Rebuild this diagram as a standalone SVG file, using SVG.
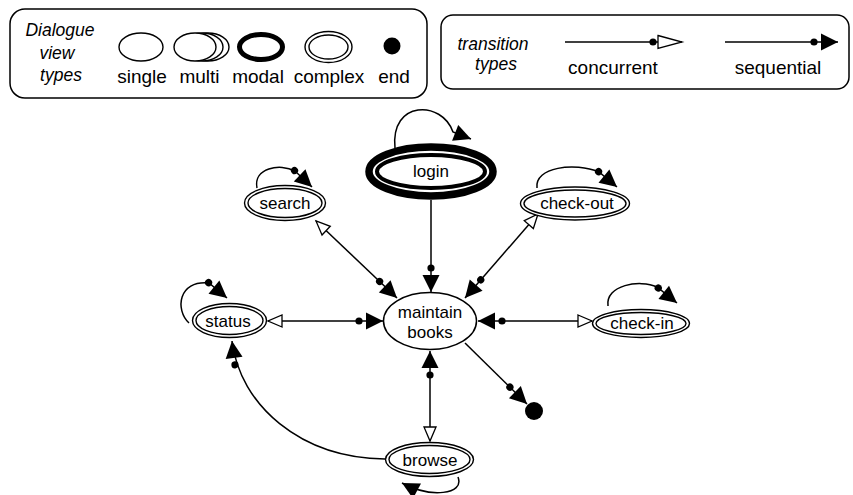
<svg xmlns="http://www.w3.org/2000/svg" width="853" height="495" viewBox="0 0 853 495">
<style>
text{font-family:"Liberation Sans",Arial,sans-serif;fill:#000;text-anchor:middle}
.it{font-style:italic;font-size:17.5px}
.lg{font-size:19px}
.lb{font-size:17px}
.box{fill:#fff;stroke:#000;stroke-width:1.5}
.el{fill:#fff;stroke:#000;stroke-width:1.4}
.ln{fill:none;stroke:#000;stroke-width:1.5}
</style>
<defs>
<marker id="seq" markerUnits="userSpaceOnUse" viewBox="-28 -9 29 18" refX="0" refY="0" markerWidth="29" markerHeight="18" orient="auto" overflow="visible">
<path d="M-17,-8.5 L0,0 L-17,8.5 Z" fill="#000"/>
<circle cx="-24" cy="0" r="3.6" fill="#000"/>
</marker>
<marker id="arr" markerUnits="userSpaceOnUse" viewBox="-18 -9 19 18" refX="0" refY="0" markerWidth="19" markerHeight="18" orient="auto" overflow="visible">
<path d="M-17,-8.5 L0,0 L-17,8.5 Z" fill="#000"/>
</marker>
<marker id="open" markerUnits="userSpaceOnUse" viewBox="-15 -7 16 14" refX="0" refY="0" markerWidth="16" markerHeight="14" orient="auto-start-reverse" overflow="visible">
<path d="M-14,-6 L0,0 L-14,6 Z" fill="#fff" stroke="#000" stroke-width="1.3"/>
</marker>
<marker id="conc" markerUnits="userSpaceOnUse" viewBox="-34 -8 35 16" refX="0" refY="0" markerWidth="35" markerHeight="16" orient="auto" overflow="visible">
<circle cx="-29" cy="0" r="3.6" fill="#000"/>
<path d="M-24,-6.5 L0,0 L-24,6.5 Z" fill="#fff" stroke="#000" stroke-width="1.3"/>
</marker>
</defs>
<rect width="853" height="495" fill="#fff"/>

<g id="legend-views">
<rect class="box" x="10" y="9" width="417" height="89" rx="15"/>
<text class="it" x="60" y="36">Dialogue</text>
<text class="it" x="57" y="59">view</text>
<text class="it" x="61" y="81">types</text>
<ellipse class="el" cx="141" cy="47" rx="22" ry="14"/>
<ellipse class="el" cx="208" cy="47" rx="21" ry="14"/>
<ellipse class="el" cx="202" cy="47" rx="21" ry="14"/>
<ellipse class="el" cx="195" cy="47" rx="21" ry="14"/>
<ellipse cx="261" cy="47" rx="21.5" ry="12.5" fill="#fff" stroke="#000" stroke-width="5"/>
<ellipse class="el" cx="328.5" cy="47" rx="23.5" ry="15.5"/>
<ellipse class="el" cx="328.5" cy="47" rx="19.5" ry="12"/>
<circle cx="392" cy="46" r="8.5" fill="#000"/>
<text class="lg" x="142" y="83">single</text>
<text class="lg" x="199.5" y="83">multi</text>
<text class="lg" x="258" y="83">modal</text>
<text class="lg" x="329" y="83">complex</text>
<text class="lg" x="394" y="83">end</text>
</g>

<g id="legend-transitions">
<rect class="box" x="441" y="15" width="408" height="74" rx="12"/>
<text class="it" x="493" y="50">transition</text>
<text class="it" x="496" y="70">types</text>
<path class="ln" d="M565,42 L682,42" marker-end="url(#conc)"/>
<path class="ln" d="M725,42 L838,42" marker-end="url(#seq)"/>
<text class="lg" x="613" y="74">concurrent</text>
<text class="lg" x="778" y="74">sequential</text>
</g>

<g id="connectors">
<path class="ln" d="M431,200 L431,292" marker-end="url(#seq)"/>
<path class="ln" d="M316,221 L397,298" marker-start="url(#open)" marker-end="url(#seq)"/>
<path class="ln" d="M538,214 L465,298" marker-start="url(#open)" marker-end="url(#seq)"/>
<path class="ln" d="M592,321 L478,321" marker-start="url(#open)" marker-end="url(#seq)"/>
<path class="ln" d="M268,321 L383,321" marker-start="url(#open)" marker-end="url(#seq)"/>
<path class="ln" d="M430,441 L430,351" marker-start="url(#open)" marker-end="url(#seq)"/>
<path class="ln" d="M465,343 L527,404" marker-end="url(#seq)"/>
<path class="ln" d="M385,459 C300,458 240,405 232,341" marker-end="url(#seq)"/>
<path class="ln" d="M395,148 C390,100 442,100 453,132 L471,139" marker-end="url(#arr)"/>
<path class="ln" d="M257,188 C253,168 280,163 295,171 L312,187" marker-end="url(#seq)"/>
<path class="ln" d="M537,188 C534,167 575,162 599,172 L617,187" marker-end="url(#seq)"/>
<path class="ln" d="M608,306 C605,285 640,279 657,287 L677,303" marker-end="url(#seq)"/>
<path class="ln" d="M189,323 C175,310 178,280 209,283 L227,298" marker-end="url(#seq)"/>
<path class="ln" d="M458,477 C465,495 430,498 402,483" marker-end="url(#arr)"/>
</g>

<g id="login">
<ellipse cx="431" cy="171.5" rx="62" ry="24.5" fill="#fff" stroke="#000" stroke-width="7.5"/>
<ellipse cx="431" cy="171.5" rx="54" ry="16.5" fill="#fff" stroke="#000" stroke-width="4"/>
<text class="lb" x="431" y="177">login</text>
</g>

<g id="search">
<ellipse class="el" cx="285" cy="203" rx="40.5" ry="17.5"/>
<ellipse class="el" cx="285" cy="203" rx="37" ry="14.5"/>
<text class="lb" x="285" y="209">search</text>
</g>

<g id="check-out">
<ellipse class="el" cx="575" cy="203.5" rx="54.5" ry="16.5"/>
<ellipse class="el" cx="575" cy="203.5" rx="51" ry="13.5"/>
<text class="lb" x="577" y="209">check-out</text>
</g>

<g id="maintain-books">
<ellipse cx="430" cy="321" rx="46.5" ry="28.5" fill="#fff" stroke="#000" stroke-width="1.5"/>
<text class="lb" x="430" y="318">maintain</text>
<text class="lb" x="430" y="338">books</text>
</g>

<g id="check-in">
<ellipse class="el" cx="641" cy="323.5" rx="48.5" ry="14"/>
<ellipse class="el" cx="641" cy="323.5" rx="45" ry="11"/>
<text class="lb" x="642" y="329">check-in</text>
</g>

<g id="status">
<ellipse class="el" cx="229.5" cy="320.5" rx="37" ry="17"/>
<ellipse class="el" cx="229.5" cy="320.5" rx="33.5" ry="14"/>
<text class="lb" x="228" y="327">status</text>
</g>

<g id="browse">
<ellipse class="el" cx="429.5" cy="459.5" rx="44" ry="17"/>
<ellipse class="el" cx="429.5" cy="459.5" rx="40.5" ry="14"/>
<text class="lb" x="430" y="466">browse</text>
</g>

<g id="end">
<circle cx="534" cy="411" r="9" fill="#000"/>
</g>
</svg>
